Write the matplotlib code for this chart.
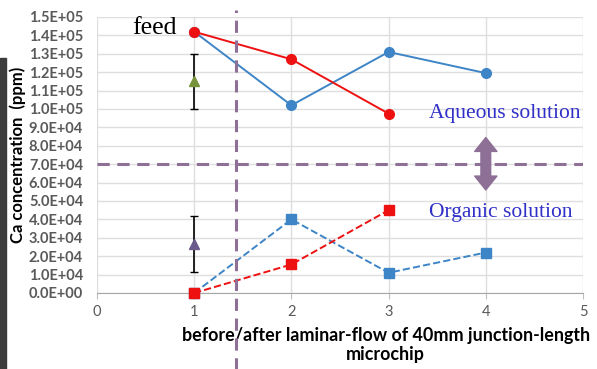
import matplotlib.pyplot as plt
from matplotlib.patches import Rectangle, FancyArrowPatch

# data
stage = [1, 2, 3, 4]
aq_blue = [1.42e5, 1.02e5, 1.31e5, 1.195e5]
aq_red = [1.42e5, 1.27e5, 0.975e5]
org_blue = [0, 4.0e4, 1.1e4, 2.2e4]
org_red = [0, 1.55e4, 4.5e4]
feed_aq, feed_aq_lo, feed_aq_hi = 1.15e5, 1.0e5, 1.3e5
feed_org, feed_org_lo, feed_org_hi = 2.65e4, 1.15e4, 4.2e4
split_x = 1.43
split_y = 7.0e4
yticks = [i * 1e4 for i in range(16)]
ytick_labels = ["0.0E+00", "1.0E+04", "2.0E+04", "3.0E+04", "4.0E+04", "5.0E+04",
                "6.0E+04", "7.0E+04", "8.0E+04", "9.0E+04", "1.0E+05", "1.1E+05",
                "1.2E+05", "1.3E+05", "1.4E+05", "1.5E+05"]

blue = "#3d85c6"
red = "#ee1111"
purple = "#8e6f96"
txt_blue = "#3030c8"
serif = "Liberation Serif"
sans = "Lato"

fig = plt.figure(figsize=(5.97, 3.69), dpi=100)
ax = fig.add_axes([97 / 597, 76 / 369, 486 / 597, 276 / 369])

ax.plot(stage, aq_blue, "-o", color=blue, ms=7, lw=1.4, zorder=3, clip_on=False)
ax.plot(stage[:3], aq_red, "-o", color=red, ms=7, lw=1.4, zorder=4, clip_on=False)
ax.plot(stage, org_blue, "--s", color=blue, ms=7, lw=1.4, zorder=3, clip_on=False)
ax.plot(stage[:3], org_red, "--s", color=red, ms=7, lw=1.4, zorder=4, clip_on=False)

ax.errorbar([1], [feed_aq], yerr=[[feed_aq - feed_aq_lo], [feed_aq_hi - feed_aq]],
            fmt="^", color="#77933c", ecolor="black", elinewidth=1.2, capsize=3, ms=7, zorder=5)
ax.errorbar([1], [feed_org], yerr=[[feed_org - feed_org_lo], [feed_org_hi - feed_org]],
            fmt="^", color="#6a5a8c", ecolor="black", elinewidth=1.2, capsize=3, ms=7, zorder=5)

ax.axhline(split_y, color=purple, ls=(0, (4, 2.5)), lw=2.2, zorder=2)
ax.plot([split_x, split_x], [-0.6e5, 1.54e5], color=purple, ls=(0, (4, 2.5)), lw=2.2,
        clip_on=False, zorder=6)

# double arrow between the two phases
for tip in [8.45e4, 5.6e4]:
    ax.add_patch(FancyArrowPatch((4, split_y), (4, tip), mutation_scale=1,
                                 arrowstyle="simple,head_length=10,head_width=16,tail_width=7",
                                 color=purple, shrinkA=0, shrinkB=0, zorder=7))

ax.text(0.82, 1.44e5, "feed", family=serif, fontsize=18.5, ha="right", va="center")
ax.text(4.19, 0.975e5, "Aqueous solution", family=serif, fontsize=15.5,
        color=txt_blue, ha="center", va="center")
ax.text(4.15, 4.4e4, "Organic solution", family=serif, fontsize=15.5,
        color=txt_blue, ha="center", va="center")

ax.set_xlim(0, 5)
ax.set_ylim(0, 1.5e5)
ax.set_xticks(range(6))
ax.set_yticks(yticks)
ax.set_yticklabels(ytick_labels, fontweight="bold", color="#595959", fontsize=10.5, family=sans)
for lb in ax.get_xticklabels():
    lb.set_family(sans)
ax.tick_params(axis="x", colors="#595959", labelsize=10.5, length=4, color="#bfbfbf", pad=5)
ax.tick_params(axis="y", length=0, pad=10)
ax.grid(True, color="#dedede", lw=1)
for s in ["top", "right", "left"]:
    ax.spines[s].set_visible(False)
ax.spines["bottom"].set_color("#a6a6a6")

ax.set_ylabel("Ca concentration  (ppm)", fontweight="bold", fontsize=12, family=sans)
ax.yaxis.set_label_coords(-0.1626, 0.5, transform=ax.transAxes)
ax.yaxis.label.set_va("center")
ax.set_xlabel("before/after laminar-flow of 40mm junction-length\nmicrochip",
              fontweight="bold", fontsize=12.9, family=sans, linespacing=1.1)
ax.xaxis.set_label_coords(0.594, -0.125, transform=ax.transAxes)
ax.xaxis.label.set_va("top")

fig.patches.append(Rectangle((0, 0), 6 / 597, 311 / 369, transform=fig.transFigure,
                             color="#3c3c3c", zorder=0))

fig.savefig("out.png", dpi=100)
